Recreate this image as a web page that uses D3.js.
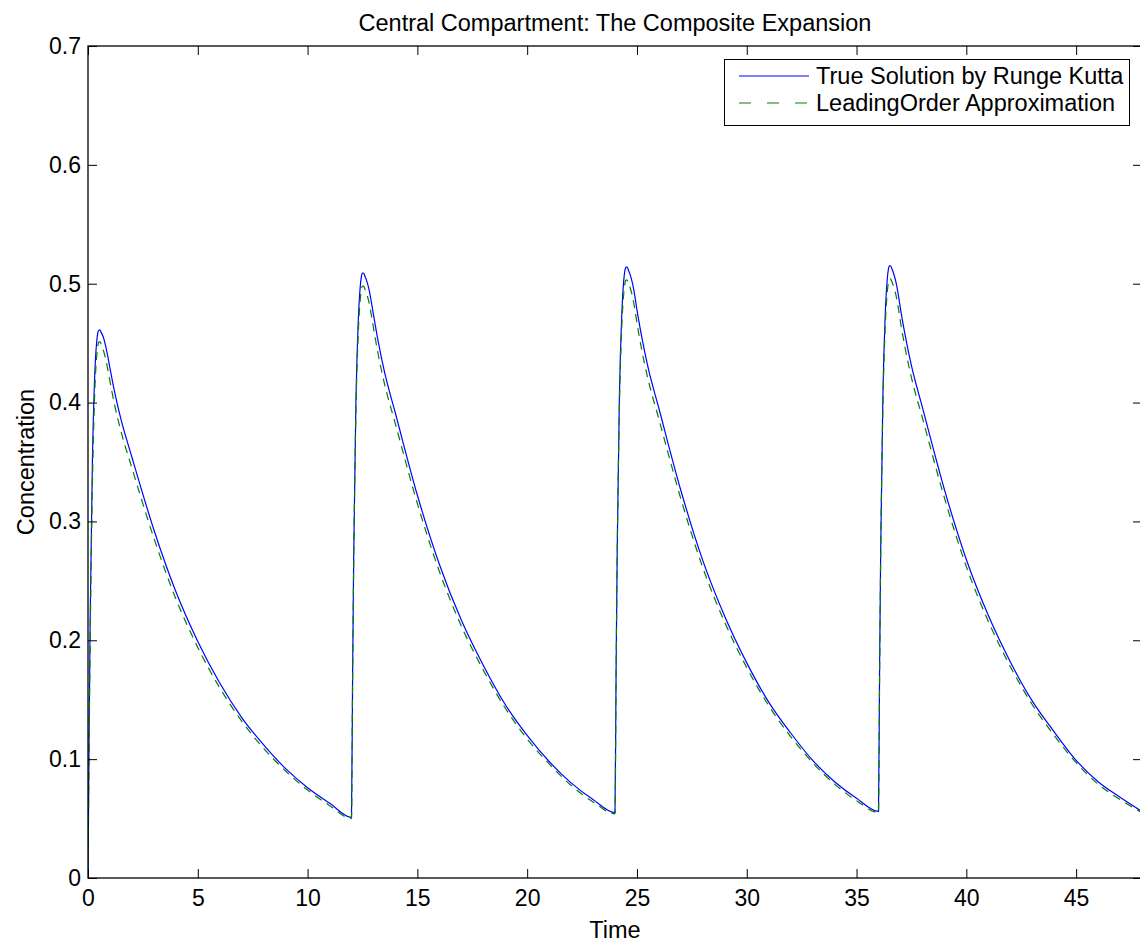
<!DOCTYPE html>
<html>
<head>
<meta charset="utf-8">
<script src="https://cdn.jsdelivr.net/npm/d3@7"></script>
<style>
  html, body { margin: 0; padding: 0; background: #fff; }
  svg { display: block; font-family: "Liberation Sans", Arial, Helvetica, sans-serif; }
</style>
</head>
<body>
<svg id="chart" width="1140" height="942"></svg>
<script>
// ---- data ----
const time = [
  0, 0.05, 0.1, 0.2, 0.3, 0.4, 0.45, 0.5, 0.55, 0.6, 0.7, 0.8, 0.9, 1, 1.2, 1.5, 2, 3, 4, 5, 6, 7, 8, 9, 10, 11,
  12, 12.05, 12.1, 12.2, 12.3, 12.4, 12.45, 12.5, 12.55, 12.6, 12.7, 12.8, 12.9, 13, 13.2, 13.5, 14, 15, 16, 17, 18, 19, 20, 21, 22, 23,
  24, 24.05, 24.1, 24.2, 24.3, 24.4, 24.45, 24.5, 24.55, 24.6, 24.7, 24.8, 24.9, 25, 25.2, 25.5, 26, 27, 28, 29, 30, 31, 32, 33, 34, 35,
  36, 36.05, 36.1, 36.2, 36.3, 36.4, 36.45, 36.5, 36.55, 36.6, 36.7, 36.8, 36.9, 37, 37.2, 37.5, 38, 39, 40, 41, 42, 43, 44, 45, 46, 47,
  48
];
const trueSolution = [
  0, 0.12, 0.22, 0.35, 0.42, 0.452, 0.459, 0.461, 0.461, 0.459, 0.455, 0.448, 0.439, 0.429, 0.410, 0.386, 0.354, 0.293, 0.241, 0.199, 0.164, 0.135, 0.112, 0.092, 0.076, 0.063,
  0.051, 0.17, 0.27, 0.40, 0.465, 0.498, 0.506, 0.509, 0.509, 0.507, 0.502, 0.495, 0.485, 0.474, 0.453, 0.426, 0.391, 0.322, 0.264, 0.217, 0.179, 0.146, 0.120, 0.098, 0.080, 0.066,
  0.055, 0.175, 0.275, 0.405, 0.47, 0.503, 0.511, 0.514, 0.514, 0.512, 0.507, 0.500, 0.490, 0.478, 0.457, 0.430, 0.395, 0.326, 0.267, 0.220, 0.181, 0.148, 0.122, 0.099, 0.081, 0.067,
  0.056, 0.176, 0.276, 0.406, 0.471, 0.504, 0.512, 0.515, 0.515, 0.513, 0.508, 0.501, 0.491, 0.479, 0.458, 0.431, 0.396, 0.327, 0.268, 0.221, 0.182, 0.149, 0.123, 0.099, 0.081, 0.068,
  0.056
];
const leadingOrder = [
  0, 0.11, 0.20, 0.33, 0.405, 0.440, 0.448, 0.451, 0.451, 0.449, 0.444, 0.437, 0.428, 0.418, 0.399, 0.376, 0.345, 0.286, 0.235, 0.194, 0.160, 0.132, 0.109, 0.090, 0.074, 0.061,
  0.050, 0.165, 0.265, 0.39, 0.455, 0.487, 0.495, 0.498, 0.498, 0.496, 0.491, 0.484, 0.474, 0.463, 0.442, 0.416, 0.382, 0.315, 0.258, 0.212, 0.175, 0.143, 0.117, 0.096, 0.078, 0.064,
  0.054, 0.17, 0.27, 0.395, 0.46, 0.492, 0.500, 0.503, 0.503, 0.501, 0.496, 0.489, 0.479, 0.467, 0.446, 0.420, 0.386, 0.319, 0.261, 0.215, 0.177, 0.145, 0.119, 0.097, 0.079, 0.065,
  0.055, 0.171, 0.271, 0.396, 0.461, 0.493, 0.501, 0.504, 0.504, 0.502, 0.497, 0.490, 0.480, 0.468, 0.447, 0.421, 0.387, 0.320, 0.262, 0.216, 0.178, 0.146, 0.120, 0.097, 0.079, 0.066,
  0.055
];
const xTicks = [0, 5, 10, 15, 20, 25, 30, 35, 40, 45];
const yTicks = [0, 0.1, 0.2, 0.3, 0.4, 0.5, 0.6, 0.7];
const seriesNames = ["True Solution by Runge Kutta", "LeadingOrder Approximation"];
const seriesColors = ["#0000ff", "#008000"];
const titleText = "Central Compartment: The Composite Expansion";
const xLabel = "Time";
const yLabel = "Concentration";

// ---- layout ----
const mLeft = 88, mRight = 1142, mTop = 46, mBottom = 878;
const svg = d3.select("#chart");
const x = d3.scaleLinear().domain([0, 48]).range([mLeft, mRight]);
const y = d3.scaleLinear().domain([0, 0.7]).range([mBottom, mTop]);
const tickLen = 9;
const tickFont = 23;
const textFont = 23.5;

svg.append("defs").append("clipPath").attr("id", "plotclip")
  .append("rect").attr("x", mLeft).attr("y", mTop).attr("width", mRight - mLeft).attr("height", mBottom - mTop);

// data lines
const lineGen = d3.line().x((d, i) => x(time[i])).y(d => y(d)).curve(d3.curveMonotoneX);
const plot = svg.append("g").attr("clip-path", "url(#plotclip)");
plot.append("path").datum(trueSolution).attr("d", lineGen)
  .attr("fill", "none").attr("stroke", seriesColors[0]).attr("stroke-width", 1.2);
plot.append("path").datum(leadingOrder).attr("d", lineGen)
  .attr("fill", "none").attr("stroke", seriesColors[1]).attr("stroke-width", 1.2)
  .attr("stroke-dasharray", "8,6");

// axes (MATLAB box style, ticks inside)
const axStyle = g => {
  g.select(".domain").remove();
  g.selectAll(".tick line").attr("stroke", "#000").attr("stroke-width", 1);
  g.selectAll(".tick text").attr("font-size", tickFont).attr("fill", "#000")
    .attr("font-family", "Liberation Sans, Arial, sans-serif");
};
svg.append("g").attr("transform", `translate(0,${mBottom})`)
  .call(d3.axisBottom(x).tickValues(xTicks).tickSizeInner(-tickLen).tickSizeOuter(0).tickPadding(12).tickFormat(d3.format("d")))
  .call(axStyle);
svg.append("g").attr("transform", `translate(0,${mTop})`)
  .call(d3.axisTop(x).tickValues(xTicks).tickSizeInner(-tickLen).tickSizeOuter(0).tickFormat(""))
  .call(axStyle);
svg.append("g").attr("transform", `translate(${mLeft},0)`)
  .call(d3.axisLeft(y).tickValues(yTicks).tickSizeInner(-tickLen).tickSizeOuter(0).tickPadding(7).tickFormat(d => d === 0 ? "0" : d3.format(".1f")(d)))
  .call(axStyle);
svg.append("g").attr("transform", `translate(${mRight},0)`)
  .call(d3.axisRight(y).tickValues(yTicks).tickSizeInner(-tickLen).tickSizeOuter(0).tickFormat(""))
  .call(axStyle);

// box
svg.append("rect").attr("x", mLeft).attr("y", mTop).attr("width", mRight - mLeft).attr("height", mBottom - mTop)
  .attr("fill", "none").attr("stroke", "#000").attr("stroke-width", 1.3);

// title and labels
svg.append("text").attr("x", (mLeft + mRight) / 2).attr("y", 31).attr("text-anchor", "middle")
  .attr("font-size", textFont).text(titleText);
svg.append("text").attr("x", (mLeft + mRight) / 2).attr("y", 938).attr("text-anchor", "middle")
  .attr("font-size", textFont).text(xLabel);
svg.append("text").attr("transform", `translate(34,${(mTop + mBottom) / 2}) rotate(-90)`)
  .attr("text-anchor", "middle").attr("font-size", textFont).text(yLabel);

// legend
const lg = svg.append("g");
lg.append("rect").attr("x", 724.5).attr("y", 59.5).attr("width", 405).attr("height", 66)
  .attr("fill", "#fff").attr("stroke", "#000").attr("stroke-width", 1);
seriesNames.forEach((name, i) => {
  const cy = 76 + i * 27;
  lg.append("line").attr("x1", 739).attr("x2", 809).attr("y1", cy).attr("y2", cy)
    .attr("stroke", seriesColors[i]).attr("stroke-width", 1.2)
    .attr("stroke-dasharray", i === 1 ? "12,16" : null);
  lg.append("text").attr("x", 816).attr("y", cy + 8).attr("font-size", textFont).text(name);
});
</script>
</body>
</html>
